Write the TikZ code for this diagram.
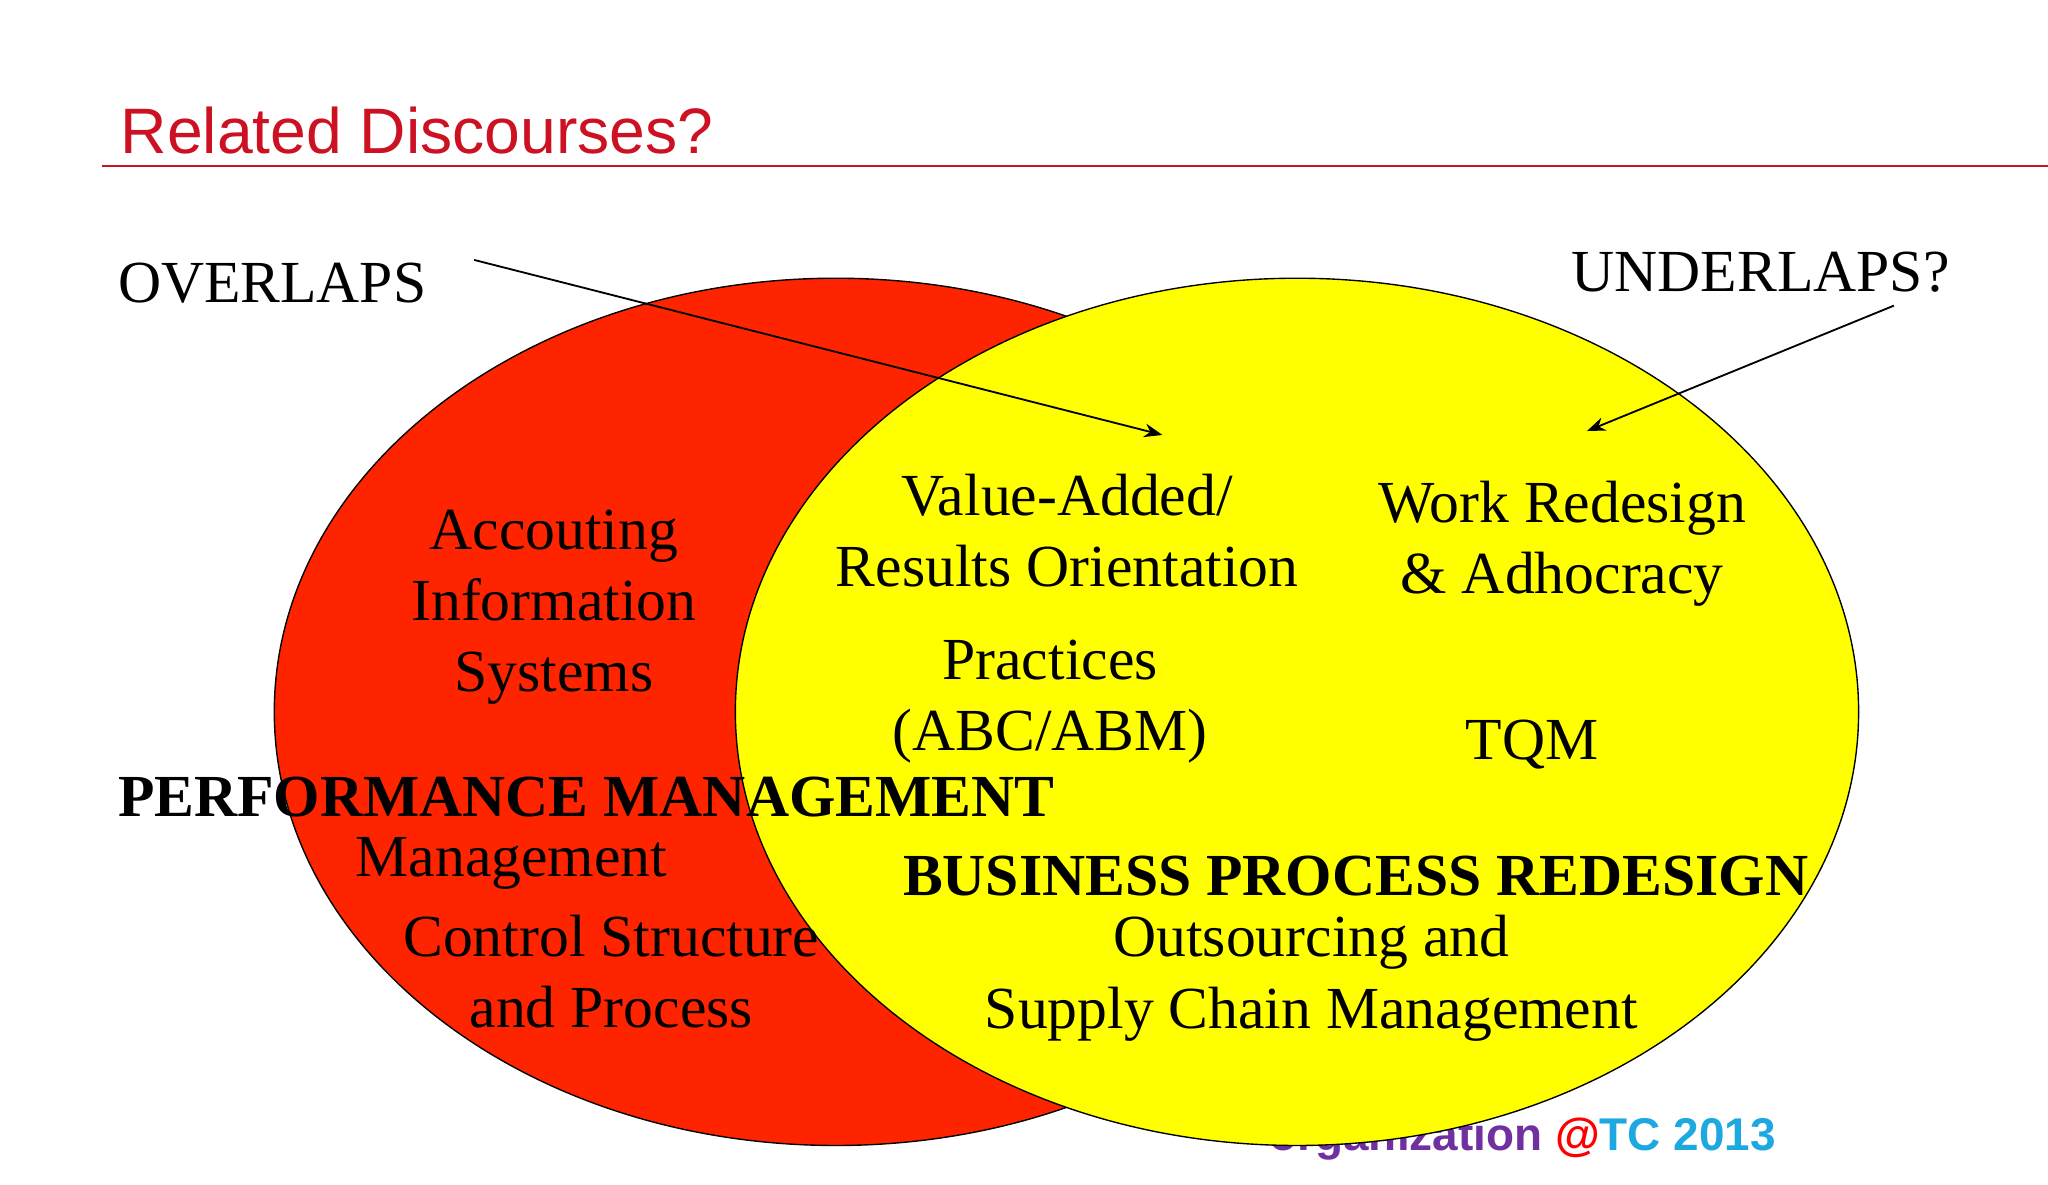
\documentclass[tikz,border=0pt]{standalone}
\usepackage{fontspec}
\setmainfont{Liberation Serif}
\newfontfamily\sansf{Liberation Sans}
\usetikzlibrary{arrows.meta}
\definecolor{redfill}{HTML}{FF2400}
\definecolor{yel}{HTML}{FFFF00}
\definecolor{titlered}{HTML}{CC1122}
\definecolor{purp}{HTML}{7030A0}
\definecolor{cyanc}{HTML}{1EA8E0}
\begin{document}
\begin{tikzpicture}[x=0.02cm,y=-0.02cm,
  lbl/.style={font=\fontsize{26}{31}\selectfont,align=center,inner sep=0pt},
  blbl/.style={font=\fontsize{26}{31}\selectfont\bfseries,inner sep=0pt},
  arr/.style={-{Stealth[length=8pt,width=6pt]},line width=0.8pt}]
\useasboundingbox[fill=white] (0,0) rectangle (1568,907);
\node[anchor=west,text=titlered,font=\sansf\fontsize{28}{32}\selectfont,inner sep=0pt] (title) at (92,100) {Related Discourses?};
\draw[titlered,line width=1.2pt] (78,127) -- (1568,127);
\node[anchor=east,font=\sansf\bfseries\fontsize{20}{24}\selectfont,inner sep=0pt] (foot) at (1360,872) {\textcolor{purp}{organization} \textcolor{red}{@}\textcolor{cyanc}{TC 2013}};
\draw[fill=redfill,line width=0.6pt] (640,545) ellipse [x radius=430,y radius=332];
\draw[fill=yel,line width=0.6pt] (993,545) ellipse [x radius=430,y radius=332];
\node[lbl,anchor=west] (ov) at (90,217) {OVERLAPS};
\node[lbl,anchor=east] (un) at (1493,208) {UNDERLAPS?};
\coordinate (ovs) at (363,199);
\coordinate (ove) at (890,333);
\coordinate (uns) at (1450,234);
\coordinate (une) at (1215,330);
\draw[arr] (ovs) -- (ove);
\draw[arr] (uns) -- (une);
\node[lbl] (ais) at (424,465) {Accouting\\Information\\Systems};
\node[lbl] (va) at (817,406) {Value-Added/\\Results Orientation};
\node[lbl] (wr) at (1196,416) {Work Redesign\\\& Adhocracy};
\node[lbl] (pr) at (804,537) {Practices\\(ABC/ABM)};
\node[lbl] (tqm) at (1173,570) {TQM};
\node[blbl,anchor=west] (pm) at (90,610) {PERFORMANCE MANAGEMENT};
\node[lbl,anchor=west] (mg) at (272,661) {Management};
\node[lbl] (cs) at (468,744) {Control Structure\\and Process};
\node[blbl,anchor=west] (bpr) at (691,671) {BUSINESS PROCESS REDESIGN};
\node[lbl] (os) at (1004,749) {Outsourcing and\\Supply Chain Management};
\end{tikzpicture}
\end{document}
